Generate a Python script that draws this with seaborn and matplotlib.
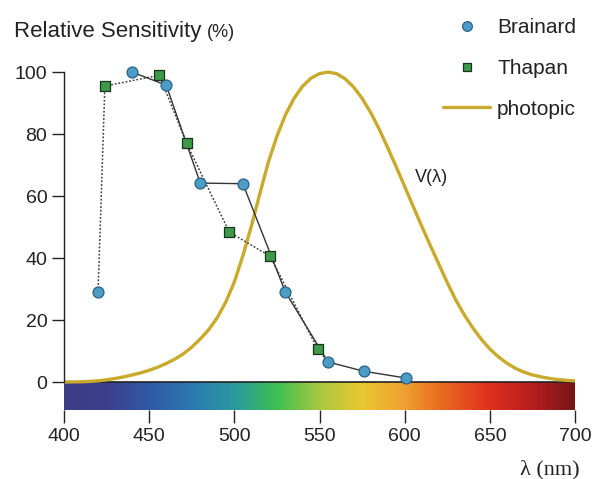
import numpy as np
import pandas as pd
import matplotlib
matplotlib.use("Agg")
import matplotlib.pyplot as plt
import seaborn as sns
from matplotlib.colors import LinearSegmentedColormap
from matplotlib.lines import Line2D

# ---------------- data ----------------
brainard_nm = [420, 440, 460, 480, 505, 530, 555, 576, 601]
brainard_val = [29, 100, 95.8, 64.2, 64, 29, 6.5, 3.5, 1.3]

thapan_nm = [424, 456, 472, 497, 521, 549]
thapan_val = [95.5, 99, 77, 48.4, 40.6, 10.6]

photopic_nm = [400, 405, 410, 415, 420, 425, 430, 435, 440, 445, 450, 455, 460, 465,
               470, 475, 480, 485, 490, 495, 500, 505, 510, 515, 520, 525, 530, 535,
               540, 545, 550, 555, 560, 565, 570, 575, 580, 585, 590, 595, 600, 605,
               610, 615, 620, 625, 630, 635, 640, 645, 650, 655, 660, 665, 670, 675,
               680, 685, 690, 695, 700]
photopic_val = [0.04, 0.064, 0.12, 0.218, 0.4, 0.73, 1.16, 1.684, 2.3, 2.98, 3.8, 4.8,
                6.0, 7.39, 9.1, 11.26, 13.9, 16.93, 20.8, 25.86, 32.3, 40.73, 50.3,
                60.82, 71.0, 79.32, 86.2, 91.49, 95.4, 98.03, 99.5, 100.0, 99.5, 97.86,
                95.2, 91.54, 87.0, 81.63, 75.7, 69.49, 63.1, 56.68, 50.3, 44.12, 38.1,
                32.1, 26.5, 21.7, 17.5, 13.82, 10.7, 8.16, 6.1, 4.458, 3.2, 2.32, 1.7,
                1.192, 0.821, 0.572, 0.41]

x_ticks = [400, 450, 500, 550, 600, 650, 700]
y_ticks = [0, 20, 40, 60, 80, 100]

# ---------------- style ----------------
sns.set_style("white")
plt.rcParams['font.family'] = ['Liberation Sans', 'DejaVu Sans']

fig = plt.figure(figsize=(6.0, 4.79), dpi=100)
ax = fig.add_axes([64/600, (479-410)/479, (575-64)/600, (410-69)/479])

spec_colors = ["#3d3d84", "#3c3f8c", "#2f5aa6", "#2b78b0", "#2a9aa0", "#3cc050",
               "#a8c840", "#e8c830", "#f0a030", "#e8641e", "#e0301e", "#b81e1e", "#761616"]
spec_cmap = LinearSegmentedColormap.from_list("spectrum", spec_colors)
grad = np.linspace(0, 1, 512).reshape(1, -1)
ax.imshow(grad, cmap=spec_cmap, aspect="auto", extent=(400, 700, -9, 0), zorder=0)
ax.axhline(0, color="#222222", lw=1.2, zorder=1)

photo_df = pd.DataFrame({"nm": photopic_nm, "val": photopic_val})
sns.lineplot(data=photo_df, x="nm", y="val", ax=ax, color="#c9aa2c", lw=2.4,
             zorder=2, sort=False)

# dotted connection (Thapan trend, starting at first Brainard point)
dot_x = [brainard_nm[0]] + thapan_nm + [brainard_nm[6]]
dot_y = [brainard_val[0]] + thapan_val + [brainard_val[6]]
ax.plot(dot_x, dot_y, color="#404040", lw=1.1, ls=(0, (1.2, 1.2)), zorder=3)
# solid Brainard line
sns.lineplot(x=brainard_nm[1:], y=brainard_val[1:], ax=ax, color="#333333",
             lw=1.0, zorder=3, sort=False)

sns.scatterplot(x=thapan_nm, y=thapan_val, ax=ax, marker="s", s=45,
                color="#3e9a48", edgecolor="#17351a", linewidth=0.9, zorder=4)
sns.scatterplot(x=brainard_nm, y=brainard_val, ax=ax, marker="o", s=62,
                color="#4b9cc6", edgecolor="#2b6384", linewidth=0.9, zorder=5)
for coll in ax.collections:
    coll.set_clip_on(False)

ax.set_xlim(400, 700)
ax.set_ylim(-9, 101)
ax.set_xticks(x_ticks)
ax.set_yticks(y_ticks)
ax.set_xticklabels([str(t) for t in x_ticks])
ax.set_yticklabels([str(t) for t in y_ticks])
ax.set_xlabel("")
ax.set_ylabel("")
for s in ["top", "right", "bottom"]:
    ax.spines[s].set_visible(False)
ax.spines["left"].set_bounds(0, 100)
ax.spines["left"].set_color("#222222")
ax.spines["left"].set_linewidth(1.0)
ax.tick_params(axis="both", direction="out", length=9, width=1.0, color="#222222",
               labelsize=14, labelcolor="#222222", pad=3)
ax.tick_params(axis="x", bottom=True, pad=4)
ax.tick_params(axis="y", left=True)

# texts
t1 = fig.text(14/600, 1 - 37/479, "Relative Sensitivity", fontsize=16, color="#222222",
              ha="left", va="baseline")
fig.canvas.draw()
bb = t1.get_window_extent(renderer=fig.canvas.get_renderer())
fig.text((bb.x1 + 6)/600, 1 - 37/479, "(%)", fontsize=13, color="#222222",
         ha="left", va="baseline")
ax.text(616, 66, "V(λ)", fontsize=13, color="#222222", ha="center", va="center")
fig.text(580/600, 1 - 474/479, "λ (nm)", fontsize=16, color="#222222",
         ha="right", va="baseline", family=["Liberation Serif", "DejaVu Serif"])

handles = [
    Line2D([], [], marker="o", ls="", markersize=7, markerfacecolor="#4b9cc6",
           markeredgecolor="#2b6384", markeredgewidth=0.9),
    Line2D([], [], marker="s", ls="", markersize=6, markerfacecolor="#3e9a48",
           markeredgecolor="#17351a", markeredgewidth=0.9),
    Line2D([], [], color="#c9aa2c", lw=2.4),
]
leg = fig.legend(handles, ["Brainard", "Thapan", "photopic"], loc="upper left",
                 bbox_to_anchor=(443/600, 1 - 18/479), frameon=False, fontsize=15,
                 handlelength=2.26, handletextpad=0.34, labelspacing=1.05,
                 borderaxespad=0, borderpad=0)
for t in leg.get_texts():
    t.set_color("#222222")

fig.savefig("out.png", dpi=100)
